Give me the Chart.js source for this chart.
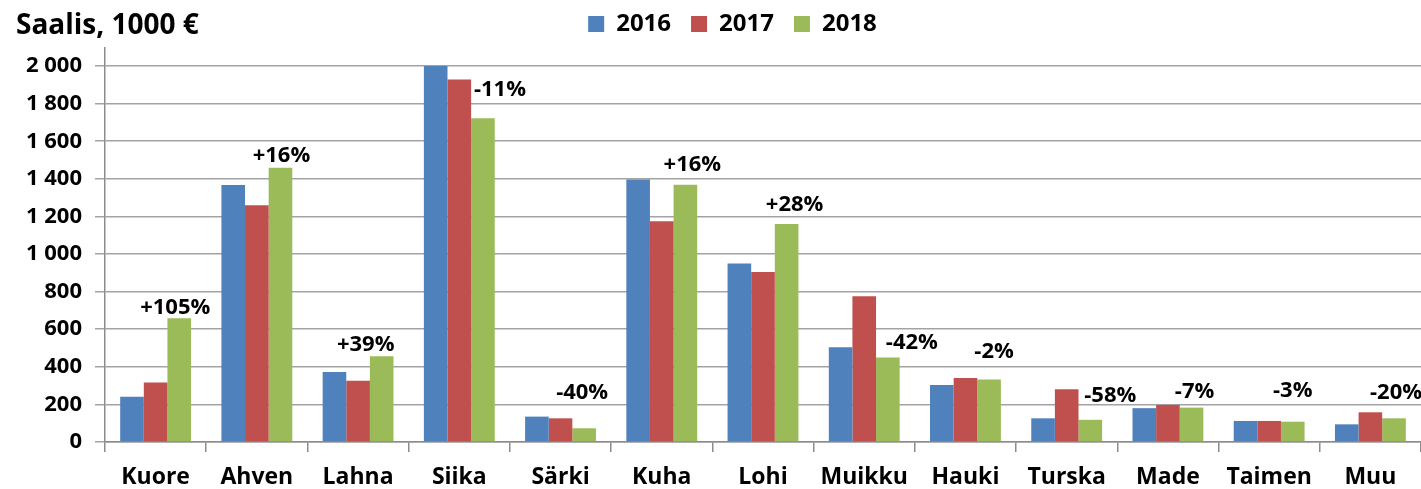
<!DOCTYPE html>
<html>
<head>
<meta charset="utf-8">
<script src="https://cdn.jsdelivr.net/npm/chart.js@4"></script>
<style>
  html, body { margin: 0; padding: 0; background: #fff; overflow: hidden; }
  #wrap { width: 1421px; height: 489px; position: relative; }
</style>
</head>
<body>
<div id="wrap"><canvas id="fishChart"></canvas></div>
<script>
const categories = ["Kuore", "Ahven", "Lahna", "Siika", "Särki", "Kuha", "Lohi",
    "Muikku", "Hauki", "Turska", "Made", "Taimen", "Muu"];
const years = ["2016", "2017", "2018"];
const catch2016 = [241, 1367, 372, 2000, 135, 1397, 950, 504, 303, 126, 180, 112, 94];
const catch2017 = [317, 1259, 326, 1929, 126, 1174, 904, 775, 340, 280, 197, 112, 158];
const catch2018 = [658, 1459, 456, 1722, 73, 1369, 1160, 450, 333, 118, 183, 108, 126];
const changeLabels = ["+105%", "+16%", "+39%", "-11%", "-40%", "+16%", "+28%",
    "-42%", "-2%", "-58%", "-7%", "-3%", "-20%"];
const yTickStep = 200;
const yTickMax = 2000;

// where each change label sits relative to the 2018 bar top: [dx, gap above] in px
const labelNudge = [[-4, 3], [1, 5], [-16, 4], [17, 21], [-2, 28], [7, 13], [8, 12],
    [24, 7], [5, 20], [20, 17], [3, 9], [0, 24], [2, 18]];

const colors = ["#4F81BD", "#C0504D", "#9BBB59"];
const fontFamily = "'Open Sans', sans-serif";

function fmt(v) {
    return String(v).replace(/\B(?=(\d{3})+(?!\d))/g, " ");
}

// title at top left
const titlePlugin = {
    id: "cornerTitle",
    afterDraw(chart) {
        const ctx = chart.ctx;
        ctx.save();
        ctx.font = "bold 28px " + fontFamily;
        ctx.fillStyle = "#000";
        ctx.textBaseline = "alphabetic";
        ctx.textAlign = "left";
        ctx.fillText("Saalis, 1000 €", 16, 34);
        ctx.restore();
    }
};

// percentage change labels above the 2018 bars
const changePlugin = {
    id: "changeLabels",
    afterDatasetsDraw(chart) {
        const ctx = chart.ctx;
        const meta = chart.getDatasetMeta(2);
        ctx.save();
        ctx.font = "bold 22px " + fontFamily;
        ctx.fillStyle = "#000";
        ctx.textAlign = "center";
        ctx.textBaseline = "alphabetic";
        meta.data.forEach(function(bar, i) {
            const n = labelNudge[i];
            ctx.fillText(changeLabels[i], bar.x + n[0], bar.y - n[1] - 1);
        });
        ctx.restore();
    }
};

// nudge legend right and up a bit
const legendShift = {
    id: "legendShift",
    afterLayout(chart) {
        if (chart.legend) {
            chart.legend.left += 22;
            chart.legend.right += 22;
            chart.legend.top -= 2;
            chart.legend.bottom -= 2;
        }
    }
};

const ctx = document.getElementById("fishChart").getContext("2d");
new Chart(ctx, {
    type: "bar",
    data: {
        labels: categories,
        datasets: [
            { label: years[0], data: catch2016, backgroundColor: colors[0] },
            { label: years[1], data: catch2017, backgroundColor: colors[1] },
            { label: years[2], data: catch2018, backgroundColor: colors[2] }
        ]
    },
    options: {
        responsive: true,
        maintainAspectRatio: false,
        animation: false,
        layout: { padding: { left: 0, right: 0, top: -6, bottom: 0 } },
        datasets: {
            bar: { categoryPercentage: 0.7, barPercentage: 1.0, borderWidth: 0 }
        },
        plugins: {
            tooltip: { enabled: false },
            legend: {
                position: "top",
                labels: {
                    boxWidth: 16,
                    boxHeight: 16,
                    padding: 20,
                    color: "#000",
                    font: { family: fontFamily, size: 24, weight: "bold" }
                }
            }
        },
        scales: {
            x: {
                grid: {
                    offset: true,
                    drawOnChartArea: false,
                    drawTicks: true,
                    tickLength: 10,
                    color: "#8c8c8c",
                    lineWidth: 1.5
                },
                border: { display: true, color: "#8c8c8c", width: 1.5 },
                ticks: {
                    color: "#000",
                    padding: 12,
                    maxRotation: 0,
                    font: { family: fontFamily, size: 23, weight: "bold" }
                },
                afterFit: function(scale) { scale.height = 47; }
            },
            y: {
                min: 0,
                max: yTickMax * 1.048,
                afterBuildTicks: function(scale) {
                    const t = [];
                    for (let v = 0; v <= yTickMax; v += yTickStep) t.push({ value: v });
                    scale.ticks = t;
                },
                grid: {
                    color: "#a3a3a3",
                    lineWidth: 1.5,
                    tickLength: 10
                },
                border: { display: true, color: "#8c8c8c", width: 1.5 },
                ticks: {
                    color: "#000",
                    padding: 13,
                    font: { family: fontFamily, size: 22, weight: "bold" },
                    callback: function(v) { return fmt(v); }
                },
                afterFit: function(scale) { scale.width = 105; }
            }
        }
    },
    plugins: [titlePlugin, changePlugin, legendShift]
});
</script>
</body>
</html>
